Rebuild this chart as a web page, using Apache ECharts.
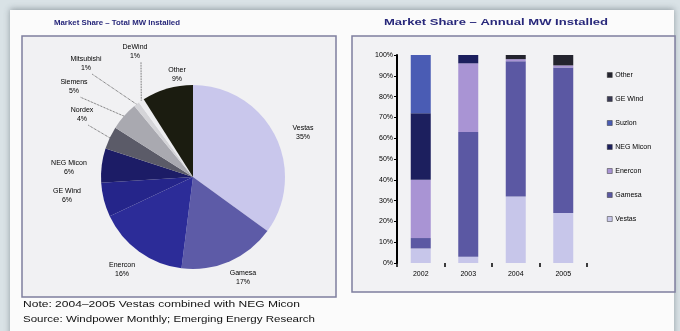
<!DOCTYPE html>
<html>
<head>
<meta charset="utf-8">
<script src="https://cdn.jsdelivr.net/npm/echarts@6/dist/echarts.min.js"></script>
<style>
  html, body { margin: 0; padding: 0; background: #d9e2e6; }
  #chart { width: 680px; height: 331px; }
</style>
</head>
<body>
<div id="chart"></div>
<script>
// ---- cumulative installed capacity, share by manufacturer (%) ----
const pieNames  = ['Vestas', 'Gamesa', 'Enercon', 'GE Wind', 'NEG Micon', 'Nordex', 'Siemens', 'Mitsubishi', 'DeWind', 'Other'];
const pieShares = [35, 17, 16, 6, 6, 4, 5, 1, 1, 9];

// ---- annual installations, share by manufacturer (%) ----
const years     = ['2002', '2003', '2004', '2005'];
const vestas    = [7, 3, 32, 24];
const gamesa    = [5, 60, 65, 70];
const enercon   = [28, 33, 1, 1];
const negMicon  = [32, 4, 0, 0];
const suzlon    = [28, 0, 0, 0];
const geWind    = [0, 0, 0, 0];
const other     = [0, 0, 2, 5];

const yTicks = [0, 10, 20, 30, 40, 50, 60, 70, 80, 90, 100];

const FONT = '"Liberation Sans", Arial, sans-serif';

const pieColors = ['#c9c7ec', '#5d5ba7', '#2c2c98', '#25258a', '#1c1c66', '#5b5b68', '#a9a9b0', '#d4d4d8', '#ececef', '#1b1c10'];
const barSeries = [
  { name: 'Vestas',    data: vestas,   color: '#c7c6ea' },
  { name: 'Gamesa',    data: gamesa,   color: '#5b58a3' },
  { name: 'Enercon',   data: enercon,  color: '#a994d4' },
  { name: 'NEG Micon', data: negMicon, color: '#1c1f5e' },
  { name: 'Suzlon',    data: suzlon,   color: '#4a5cb4' },
  { name: 'GE Wind',   data: geWind,   color: '#3a3a55' },
  { name: 'Other',     data: other,    color: '#24242e' }
];

// label anchor points around the pie (pixels)
const pieLabelPos = [
  [303, 133], [243, 278], [122, 270], [67, 196], [69, 168],
  [82, 115], [74, 87], [86, 64], [135, 52], [177, 75]
];
const pieLabelLine = [false, false, false, false, false, true, true, true, true, false];

// horizontal stretch so a line of text fills a given width
const measureCtx = document.createElement('canvas').getContext('2d');
function stretchFor(text, font, width) {
  measureCtx.font = font;
  return width / measureCtx.measureText(text).width;
}

function stretchedText(text, x, y, size, weight, color, width) {
  const font = weight + ' ' + size + 'px ' + FONT;
  return {
    type: 'text', x: x, y: y, z: 10,
    scaleX: stretchFor(text, font, width),
    style: { text: text, font: font, fill: color, textAlign: 'left', textVerticalAlign: 'middle' }
  };
}

const chart = echarts.init(document.getElementById('chart'), null, { renderer: 'canvas' });

const titleLeft  = 'Market Share \u2013 Total MW Installed';
const titleRight = 'Market Share \u2013 Annual MW Installed';
const note1 = 'Note: 2004\u20132005 Vestas combined with NEG Micon';
const note2 = 'Source: Windpower Monthly; Emerging Energy Research';

chart.setOption({
  animation: false,
  backgroundColor: '#d9e2e6',
  graphic: [
    { type: 'rect', z: -20, shape: { x: 10, y: 10, width: 664, height: 330 },
      style: { fill: '#fbfbfb', shadowBlur: 6, shadowColor: 'rgba(60,70,80,0.45)', shadowOffsetY: -1 } },
    { type: 'rect', z: -10, shape: { x: 22, y: 36, width: 314, height: 261 },
      style: { fill: '#f1f1f3', stroke: '#7f7f9e', lineWidth: 1.5 } },
    { type: 'rect', z: -10, shape: { x: 352, y: 36, width: 323, height: 256 },
      style: { fill: '#f2f2f4', stroke: '#7f7f9e', lineWidth: 1.5 } },
    stretchedText(titleLeft, 54, 23, 7, 'bold', '#27277a', 126),
    stretchedText(titleRight, 384, 23, 9, 'bold', '#27277a', 224),
    stretchedText(note1, 23, 305, 9, 'normal', '#111', 277),
    stretchedText(note2, 23, 320, 9, 'normal', '#111', 292)
  ],
  legend: {
    orient: 'vertical',
    left: 607, top: 71,
    itemWidth: 5, itemHeight: 5, itemGap: 16,
    icon: 'rect',
    padding: 0,
    data: ['Other', 'GE Wind', 'Suzlon', 'NEG Micon', 'Enercon', 'Gamesa', 'Vestas'],
    textStyle: { fontFamily: FONT, fontSize: 7, color: '#000', lineHeight: 8, padding: [0, 0, 0, -2] },
    itemStyle: { borderColor: '#333', borderWidth: 0.5 }
  },
  grid: { left: 397, top: 55, width: 190, height: 208 },
  xAxis: {
    type: 'category',
    data: years,
    axisLine: { show: false },
    axisTick: { show: true, length: 4, lineStyle: { color: '#000', width: 1.5 } },
    axisLabel: { fontFamily: FONT, fontSize: 7, color: '#000', margin: 8 }
  },
  yAxis: {
    type: 'value',
    min: yTicks[0], max: yTicks[yTicks.length - 1], interval: 10,
    axisLine: { show: true, lineStyle: { color: '#000', width: 2 } },
    axisTick: { show: true, length: 3, lineStyle: { color: '#000' } },
    splitLine: { show: false },
    axisLabel: { fontFamily: FONT, fontSize: 7, color: '#000', margin: 4, formatter: '{value}%' }
  },
  series: [
    {
      type: 'pie',
      center: [193, 177],
      radius: 92,
      startAngle: 90,
      clockwise: true,
      silent: true,
      itemStyle: { borderWidth: 0 },
      label: {
        show: true, position: 'outside',
        formatter: '{b}\n{c}%',
        fontFamily: FONT, fontSize: 7, lineHeight: 9, color: '#000', align: 'center'
      },
      labelLine: { show: true, length: 6, length2: 4, lineStyle: { color: '#333', width: 0.8, type: 'dotted' } },
      labelLayout: function (params) {
        const p = pieLabelPos[params.dataIndex];
        const res = { x: p[0], y: p[1], align: 'center', verticalAlign: 'middle' };
        if (params.labelLinePoints) {
          res.labelLinePoints = pieLabelLine[params.dataIndex]
            ? [params.labelLinePoints[0], [p[0] + 6, p[1] + 10]]
            : [params.labelLinePoints[0], params.labelLinePoints[0]];
        }
        return res;
      },
      data: pieNames.map((n, i) => ({
        name: n, value: pieShares[i],
        itemStyle: { color: pieColors[i] },
        labelLine: { show: pieLabelLine[i] }
      }))
    }
  ].concat(barSeries.map(s => ({
    type: 'bar',
    name: s.name,
    stack: 'share',
    barWidth: 20,
    data: s.data,
    itemStyle: { color: s.color },
    silent: true
  })))
});
</script>
</body>
</html>
